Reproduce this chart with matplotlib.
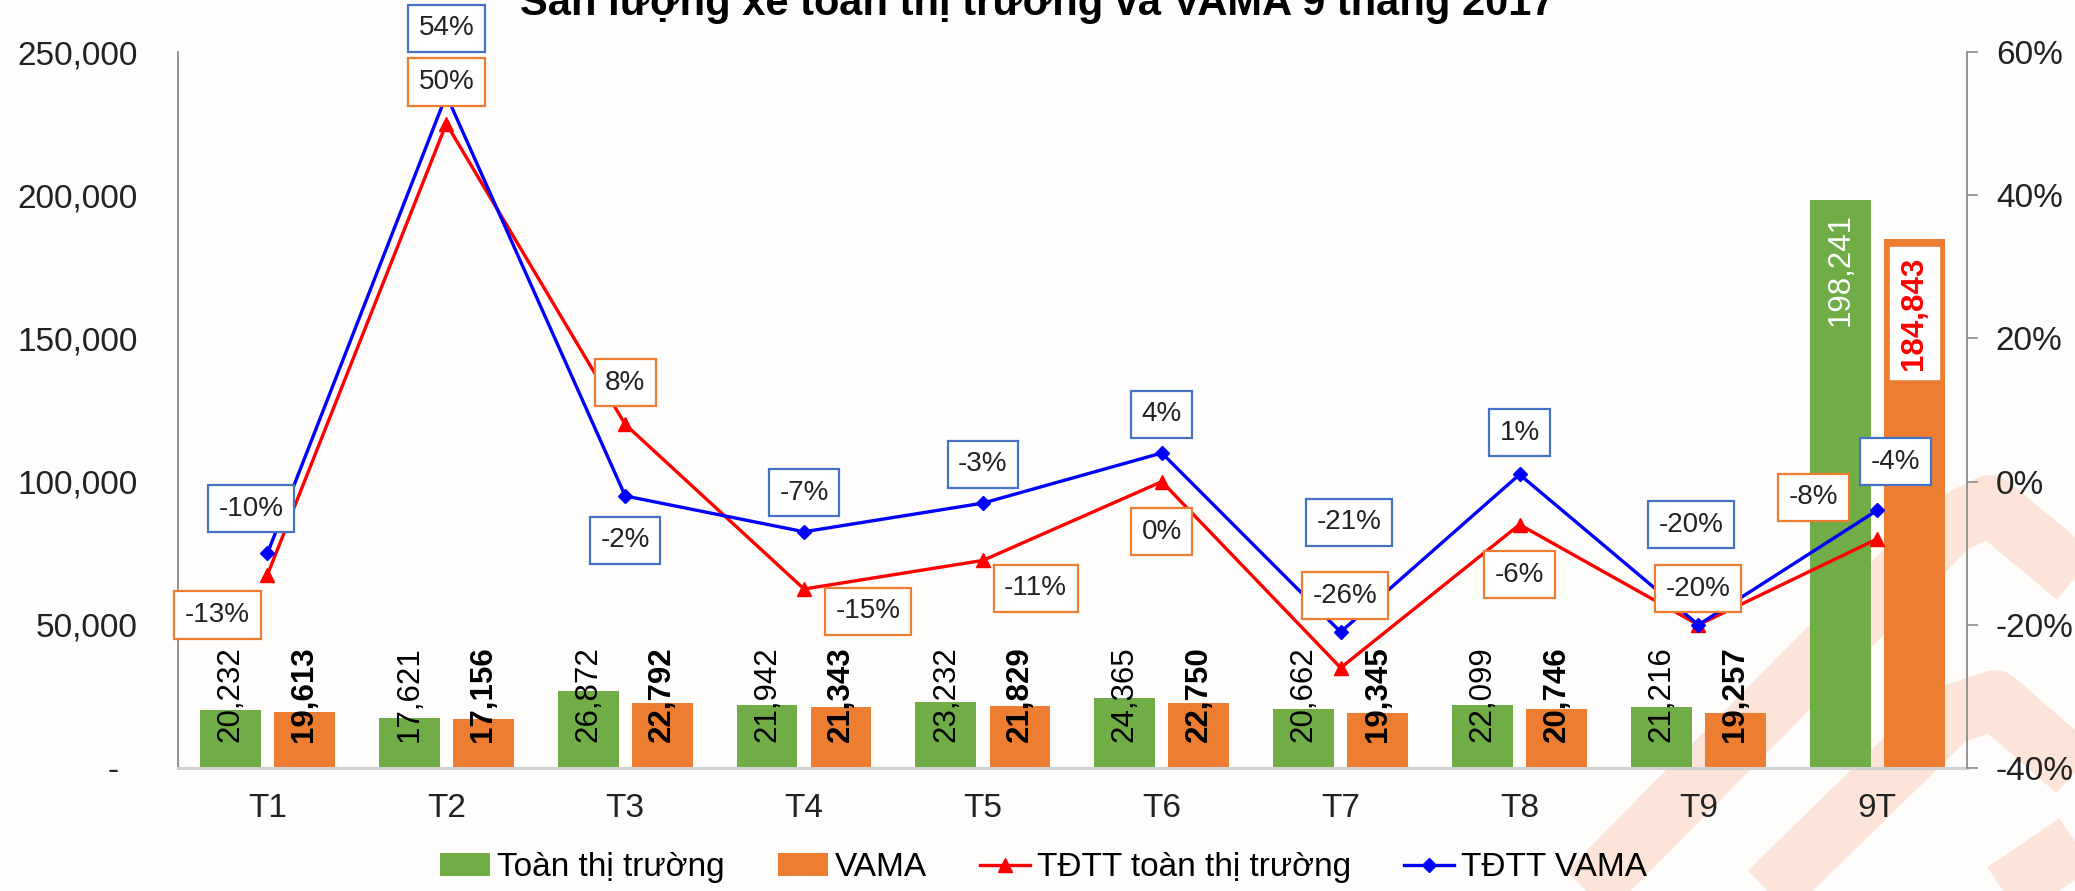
import numpy as np
import matplotlib
matplotlib.use("Agg")
import matplotlib.pyplot as plt
from matplotlib.lines import Line2D

plt.rcParams['font.family'] = ['Liberation Sans', 'DejaVu Sans']

# data
months = ["T1", "T2", "T3", "T4", "T5", "T6", "T7", "T8", "T9", "9T"]
toan_tt = [20232, 17621, 26872, 21942, 23232, 24365, 20662, 22099, 21216, 198241]
vama = [19613, 17156, 22792, 21343, 21829, 22750, 19345, 20746, 19257, 184843]
tdtt_toan_tt = [-13, 50, 8, -15, -11, 0, -26, -6, -20, -8]   # %
tdtt_vama = [-10, 54, -2, -7, -3, 4, -21, 1, -20, -4]         # %

# where each % label sits relative to its point (points)
off_red = [(-36, -29), (0, 30), (0, 30), (46, -16), (38, -20),
           (0, -36), (3, 52), (0, -36), (0, 26), (-46, 30)]
off_blue = [(-12, 32), (0, 48), (0, -32), (0, 28), (0, 28),
            (0, 28), (6, 79), (0, 30), (-5, 72), (13, 35)]

GREEN = '#70AD47'
ORANGE = '#ED7D31'
BG = '#FEFDFB'

fig = plt.figure(figsize=(20.75, 8.91), dpi=100, facecolor=BG)
ax = fig.add_axes([0.0858, 0.138, 0.862, 0.8036])
ax.set_facecolor('none')

# watermark logo in the corner (rough, pixel coords)
wm = '#FCE4D8'
for pts in ([(1560, 920), (1950, 525), (1990, 505), (2110, 605)],
            [(1740, 920), (1950, 715), (1995, 700), (2110, 800)],
            [(1985, 905), (2110, 820)]):
    xs = [p[0] / 2075 for p in pts]
    ys = [1 - p[1] / 891 for p in pts]
    fig.add_artist(Line2D(xs, ys, transform=fig.transFigure, color=wm,
                          lw=43, solid_joinstyle='round', solid_capstyle='butt',
                          zorder=-5))

x = np.arange(len(months))
w = 0.34
d = 0.207
ax.bar(x - d, toan_tt, w, color=GREEN, zorder=2, label='Toàn thị trường')
ax.bar(x + d, vama, w, color=ORANGE, zorder=2, label='VAMA')

for i in range(len(months) - 1):
    ax.annotate(f"{toan_tt[i]:,}", (x[i] - d, 0), xytext=(0, 19),
                textcoords='offset points', rotation=90, ha='center',
                va='bottom', fontsize=22.5, zorder=3)
    ax.annotate(f"{vama[i]:,}", (x[i] + d, 0), xytext=(0, 19),
                textcoords='offset points', rotation=90, ha='center',
                va='bottom', fontsize=22.5, fontweight='bold', zorder=3)

n = len(months) - 1
ax.annotate(f"{toan_tt[n]:,}", (x[n] - d, toan_tt[n]), xytext=(0, -9),
            textcoords='offset points', rotation=90, ha='center', va='top',
            fontsize=22.5, color='white', zorder=3)
ax.annotate(f"{vama[n]:,}", (x[n] + d, vama[n]), xytext=(0, -13),
            textcoords='offset points', rotation=90, ha='center', va='top',
            fontsize=22.5, fontweight='bold', color='#FF0000', zorder=3,
            bbox=dict(boxstyle='square,pad=0.3', fc='white', ec='white'))

ax.set_xlim(-0.5, 9.5)
ax.set_ylim(0, 250000)
yt = list(range(0, 250001, 50000))
ax.set_yticks(yt)
ax.set_yticklabels(["-  " if v == 0 else f"{v:,}" for v in yt])
ax.set_xticks(x)
ax.set_xticklabels(months)
ax.tick_params(axis='y', length=0, pad=29, labelsize=24, colors='#222222')
ax.tick_params(axis='x', length=0, pad=18, labelsize=24, colors='#222222')

for s in ['top', 'right']:
    ax.spines[s].set_visible(False)
ax.spines['left'].set_color('#8C8C8C')
ax.spines['left'].set_linewidth(1.3)
ax.spines['bottom'].set_color('#D0D0D0')
ax.spines['bottom'].set_linewidth(2.2)

ax2 = ax.twinx()
ax2.set_ylim(-40, 60)
pt = list(range(-40, 61, 20))
ax2.set_yticks(pt)
ax2.set_yticklabels([f"{v}%" for v in pt])
ax2.tick_params(axis='y', length=8, width=1.2, pad=13,
                labelsize=24, colors='#222222')
ax2.tick_params(axis='y', color='#8C8C8C')
for s in ['top', 'left', 'bottom']:
    ax2.spines[s].set_visible(False)
ax2.spines['right'].set_color('#8C8C8C')
ax2.spines['right'].set_linewidth(1.3)

ax2.plot(x, tdtt_toan_tt, color='#FF0000', lw=2.4, marker='^', ms=10,
         label='TĐTT toàn thị trường', zorder=4)
ax2.plot(x, tdtt_vama, color='#0000FF', lw=2.4, marker='D', ms=7,
         label='TĐTT VAMA', zorder=5)

for vals, offs, ec in ((tdtt_toan_tt, off_red, ORANGE),
                       (tdtt_vama, off_blue, '#4472C4')):
    for i, v in enumerate(vals):
        ax2.annotate(f"{v}%", (x[i], v), xytext=offs[i], textcoords='offset points',
                     ha='center', va='center', fontsize=20, color='#222222',
                     zorder=6,
                     bbox=dict(boxstyle='square,pad=0.38', fc='white', ec=ec, lw=1.6))

h1, l1 = ax.get_legend_handles_labels()
h2, l2 = ax2.get_legend_handles_labels()
fig.legend(h1 + h2, l1 + l2, loc='center', bbox_to_anchor=(0.503, 0.026),
           ncol=4, frameon=False, fontsize=24, handlelength=1.5,
           handletextpad=0.2, columnspacing=1.6)

fig.text(0.5, 0.983, "Sản lượng xe toàn thị trường và VAMA 9 tháng 2017",
         ha='center', va='baseline', fontsize=30, fontweight='bold')

fig.savefig('out.png', dpi=100, facecolor=BG)
